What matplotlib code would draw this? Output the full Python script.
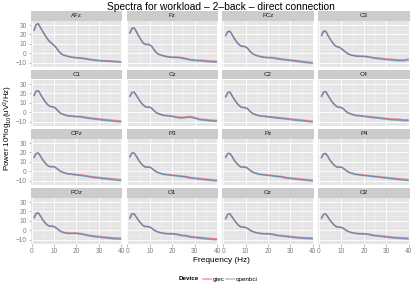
import matplotlib
matplotlib.use("Agg")
import matplotlib.pyplot as plt
from matplotlib.lines import Line2D

plt.rcParams['font.family'] = ['Liberation Sans', 'DejaVu Sans']
plt.rcParams['mathtext.fontset'] = 'custom'
plt.rcParams['mathtext.rm'] = 'Liberation Sans'
plt.rcParams['mathtext.it'] = 'Liberation Sans'

title = "Spectra for workload \u2013 2\u2013back \u2013 direct connection"
channels = ["AFz", "Fz", "FCz", "C3", "C1", "Cz", "C2", "C4",
            "CPz", "P3", "Pz", "P4", "POz", "O1", "Oz", "O2"]
devices = ["gtec", "openbci"]
freqs = [1, 2, 3, 4, 5, 6, 7, 8, 9, 10, 11, 12, 13, 14, 16, 18, 20, 22, 24, 26, 28, 30, 32, 34, 36, 38, 40]
x_ticks = [0, 10, 20, 30, 40]
y_ticks = [-10, 0, 10, 20, 30]

gtec = {
    "AFz": [24, 30.5, 31.5, 27, 23, 19, 15.5, 12.5, 10.5, 8.5, 6, 2.5, 0, -1.5, -3, -4, -4.5, -5, -5.5, -6.5, -7, -7.5, -7.8, -8, -8.3, -8.7, -9.0],
    "Fz": [21, 26.5, 27, 23, 18.5, 14.5, 11, 9.5, 9.5, 9, 7, 3.5, 0.5, -1, -2.5, -3.5, -4, -4, -4.5, -5.5, -6.5, -7, -7.3, -7.5, -8, -8.3, -8.5],
    "FCz": [18.5, 23, 23.5, 19.5, 15.5, 12, 9.5, 7.5, 7.5, 7, 5, 2, 0, -1.5, -3, -4, -4.3, -4.5, -5.3, -6, -6.5, -7, -7.5, -8.2, -8.8, -9.3, -9.8],
    "C3": [18.5, 23.5, 23.5, 19, 15, 11.5, 8.5, 7, 6.5, 5, 3, 1, -0.5, -1.5, -2.5, -3, -3, -3.5, -4.5, -5, -5.5, -6, -6.3, -6.8, -7, -7, -6.2],
    "C1": [17.5, 22.5, 23, 19, 15, 11.5, 8.5, 6.5, 6, 5.5, 3.5, 1, -1, -2, -3.5, -4, -4.3, -4.5, -5.3, -6, -6.5, -7, -7.5, -8, -8.5, -9, -9.3],
    "Cz": [16.5, 21, 21.5, 18, 14, 10.5, 8, 6, 5.5, 5.5, 4, 1.5, -0.5, -1.5, -3, -3.5, -4, -5, -5.5, -5, -4.5, -5.5, -7, -7.5, -8, -8.5, -8.7],
    "C2": [16, 21, 21.5, 17.5, 13.5, 10, 7.5, 5.5, 5, 5, 3.5, 1, -1, -2, -3.5, -4, -4.5, -5, -5.5, -6, -6.5, -7, -7.5, -8, -8.5, -9, -9.5],
    "C4": [16.5, 21.5, 22, 18, 14, 10.5, 8, 6, 5.5, 5, 3.5, 1, -0.5, -1.5, -3, -3.5, -4, -4.5, -5, -5.5, -6, -6.5, -7, -7.3, -7.5, -8, -8],
    "CPz": [14.5, 19, 19.5, 16, 12, 9, 6.5, 5, 5, 5, 3.5, 1.5, 0, -1, -2.5, -3, -3.5, -4, -4.5, -5.5, -6, -6.5, -7, -7.5, -8, -8.5, -9],
    "P3": [15, 19.5, 19.5, 16, 12, 8.5, 6, 4.5, 4.5, 4.5, 3, 1, -0.5, -1.5, -3, -3.5, -4, -4.5, -5, -5.5, -6.5, -7, -7.5, -8, -8.5, -9, -9.3],
    "Pz": [14.5, 19, 19, 15.5, 11.5, 8.5, 6, 4.5, 4.5, 4.5, 3, 1, -0.5, -1.5, -3, -3.5, -4, -4.5, -5, -5.5, -6.5, -7, -7.5, -8, -8.5, -9, -9.5],
    "P4": [14, 18.5, 19, 15.5, 11.5, 8.5, 6, 4.5, 4.5, 4.5, 3, 1, -0.5, -1.5, -3, -3.5, -4, -4.5, -5, -5.5, -6, -6.5, -7, -7.5, -8, -8.5, -8.8],
    "POz": [13, 18, 18.5, 15, 11, 8, 5.5, 4.5, 4.5, 4, 2.5, 0.5, -1, -2, -3, -3, -3, -3.5, -4.5, -5.5, -6, -6.5, -7, -7.5, -8, -8.3, -8.5],
    "O1": [12.5, 17.5, 17.5, 14, 10.5, 7.5, 5, 4, 4, 3.5, 2, 0, -1, -2, -3, -3.5, -3.5, -4, -5, -5.5, -6.5, -7, -7.5, -8, -8.5, -9, -9],
    "Oz": [12, 17, 17.5, 14, 10.5, 7.5, 5, 3.5, 3.5, 3, 2, 0, -1, -2, -3, -3.5, -3.5, -4, -5, -5.5, -6, -6.5, -7, -7.5, -7.8, -8, -8.2],
    "O2": [12.5, 17, 17.5, 14, 10.5, 7.5, 5, 3.5, 3.5, 3, 2, 0, -1, -2, -3, -3.5, -3.5, -4, -5, -5.5, -6, -6.5, -7, -7.5, -7.8, -8, -8.3],
}

openbci = {
    "AFz": [23.6, 30.2, 31.3, 27.1, 23.0, 19.1, 15.4, 12.4, 10.4, 8.3, 5.8, 2.3, -0.2, -1.8, -3.3, -4.4, -4.9, -5.4, -6.0, -6.9, -7.5, -8.0, -8.3, -8.5, -8.8, -9.2, -9.6],
    "Fz": [20.6, 26.2, 26.8, 23.0, 18.5, 14.4, 10.9, 9.4, 9.3, 8.8, 6.8, 3.3, 0.2, -1.3, -2.9, -3.9, -4.5, -4.6, -5.1, -6.2, -7.3, -7.9, -8.2, -8.5, -9.0, -9.4, -9.6],
    "FCz": [18.1, 22.7, 23.3, 19.5, 15.4, 11.9, 9.4, 7.4, 7.3, 6.8, 4.8, 1.8, -0.3, -1.8, -3.4, -4.4, -4.8, -5.1, -6.0, -6.7, -7.3, -7.9, -8.5, -9.2, -9.8, -10.3, -10.8],
    "C3": [18.1, 23.2, 23.3, 19.0, 14.9, 11.4, 8.4, 6.9, 6.3, 4.8, 2.8, 0.8, -0.8, -1.8, -2.9, -3.4, -3.5, -4.1, -5.1, -5.7, -6.3, -6.9, -7.2, -7.7, -8.0, -8.0, -7.2],
    "C1": [17.1, 22.2, 22.8, 19.0, 14.9, 11.4, 8.4, 6.4, 5.8, 5.3, 3.3, 0.8, -1.3, -2.3, -3.9, -4.4, -4.8, -5.1, -6.0, -6.7, -7.3, -7.9, -8.5, -9.0, -9.5, -10.0, -10.3],
    "Cz": [16.1, 20.7, 21.3, 18.0, 13.9, 10.4, 7.9, 5.9, 5.3, 5.3, 3.8, 1.3, -0.8, -1.8, -3.4, -3.9, -4.5, -5.6, -6.2, -5.7, -5.3, -6.4, -7.9, -8.5, -9.0, -9.5, -9.8],
    "C2": [15.6, 20.7, 21.3, 17.5, 13.4, 9.9, 7.4, 5.4, 4.8, 4.8, 3.3, 0.8, -1.3, -2.3, -3.9, -4.4, -5.0, -5.6, -6.2, -6.7, -7.3, -7.9, -8.5, -9.0, -9.5, -10.0, -10.5],
    "C4": [16.1, 21.2, 21.8, 18.0, 13.9, 10.4, 7.9, 5.9, 5.3, 4.8, 3.3, 0.8, -0.8, -1.8, -3.4, -3.9, -4.5, -5.1, -5.7, -6.2, -6.8, -7.4, -8.0, -8.3, -8.5, -9.0, -9.0],
    "CPz": [14.1, 18.7, 19.3, 16.0, 11.9, 8.9, 6.4, 4.9, 4.8, 4.8, 3.3, 1.3, -0.3, -1.3, -2.9, -3.4, -4.0, -4.6, -5.2, -6.2, -6.8, -7.4, -8.0, -8.5, -9.0, -9.5, -10.2],
    "P3": [14.6, 19.2, 19.3, 16.0, 11.9, 8.4, 5.9, 4.4, 4.3, 4.3, 2.8, 0.8, -0.8, -1.8, -3.4, -3.9, -4.5, -5.1, -5.7, -6.2, -7.3, -7.9, -8.5, -9.0, -9.5, -10.0, -10.4],
    "Pz": [14.1, 18.7, 18.8, 15.5, 11.4, 8.4, 5.9, 4.4, 4.3, 4.3, 2.8, 0.8, -0.8, -1.8, -3.4, -3.9, -4.5, -5.1, -5.7, -6.2, -7.3, -7.9, -8.5, -9.0, -9.5, -10.0, -10.6],
    "P4": [13.6, 18.2, 18.8, 15.5, 11.4, 8.4, 5.9, 4.4, 4.3, 4.3, 2.8, 0.8, -0.8, -1.8, -3.4, -3.9, -4.5, -5.1, -5.7, -6.2, -6.8, -7.4, -8.0, -8.5, -9.0, -9.5, -9.9],
    "POz": [12.6, 17.7, 18.3, 15.0, 10.9, 7.9, 5.4, 4.4, 4.3, 3.8, 2.3, 0.3, -1.3, -2.3, -3.4, -3.4, -3.5, -4.1, -5.2, -6.2, -6.8, -7.4, -8.0, -8.5, -9.0, -9.3, -9.6],
    "O1": [12.1, 17.2, 17.3, 14.0, 10.4, 7.4, 4.9, 3.9, 3.8, 3.3, 1.8, -0.2, -1.3, -2.3, -3.4, -3.9, -4.0, -4.6, -5.7, -6.2, -7.3, -7.9, -8.5, -9.0, -9.5, -10.0, -10.1],
    "Oz": [11.6, 16.7, 17.3, 14.0, 10.4, 7.4, 4.9, 3.4, 3.3, 2.8, 1.8, -0.2, -1.3, -2.3, -3.4, -3.9, -4.0, -4.6, -5.7, -6.2, -6.8, -7.4, -8.0, -8.5, -8.8, -9.0, -9.3],
    "O2": [12.1, 16.7, 17.3, 14.0, 10.4, 7.4, 4.9, 3.4, 3.3, 2.8, 1.8, -0.2, -1.3, -2.3, -3.4, -3.9, -4.0, -4.6, -5.7, -6.2, -6.8, -7.4, -8.0, -8.5, -8.8, -9.0, -9.4],
}

colors = {"gtec": "#E41A1C", "openbci": "#377EB8"}
alphas = {"gtec": 0.45, "openbci": 0.62}
series = {"gtec": gtec, "openbci": openbci}

W, H = 415, 291
fig = plt.figure(figsize=(W / 72, H / 72), dpi=72)


def rect(l, t, w, h):
    return [l / W, 1 - (t + h) / H, w / W, h / H]


lefts = [30.7 + i * 95.8 for i in range(4)]
pw = 91.5
strip_h = 9.5
ph = 46.2
pitch = 59.0
top0 = 11.0
tick_col = "#7F7F7F"

for idx, ch in enumerate(channels):
    r, c = divmod(idx, 4)
    st = top0 + r * pitch
    sax = fig.add_axes(rect(lefts[c], st, pw, strip_h))
    sax.set_facecolor("#CCCCCC")
    sax.set_xticks([]); sax.set_yticks([])
    for s in sax.spines.values():
        s.set_visible(False)
    sax.text(0.5, 0.5, ch, ha="center", va="center", fontsize=6.3, color="#1A1A1A",
             transform=sax.transAxes)

    ax = fig.add_axes(rect(lefts[c], st + strip_h, pw, ph))
    ax.set_facecolor("#E5E5E5")
    for s in ax.spines.values():
        s.set_visible(False)
    ax.set_xlim(-0.4, 40.4)
    ax.set_ylim(-14.3, 34.8)
    ax.set_xticks(x_ticks)
    ax.set_yticks(y_ticks)
    ax.set_xticks([5, 15, 25, 35], minor=True)
    ax.set_yticks([-5, 5, 15, 25], minor=True)
    ax.grid(True, which="major", color="white", lw=0.9)
    ax.grid(True, which="minor", color="#F2F2F2", lw=0.5)
    ax.set_axisbelow(True)
    ax.tick_params(which="minor", length=0)
    ax.tick_params(which="major", length=2.5, width=0.5, color=tick_col,
                   labelsize=6.5, labelcolor=tick_col, pad=1.5)
    if c != 0:
        ax.tick_params(axis="y", length=0, labelleft=False)
    if r != 3:
        ax.tick_params(axis="x", length=0, labelbottom=False)
    for dev in devices:
        ax.plot(freqs, series[dev][ch], color=colors[dev], alpha=alphas[dev], lw=1.5,
                solid_capstyle="butt")

fig.text(221 / W, 1 - 6.5 / H, title, ha="center", va="center", fontsize=10.3)
fig.text(221 / W, 1 - 260 / H, "Frequency (Hz)", ha="center", va="center", fontsize=8.2)
fig.text(8 / W, 1 - 128 / H, r"Power 10*log$_{10}$(uV$^{2}$/Hz)", ha="center",
         va="center", rotation=90, fontsize=8)

fig.text(178.5 / W, 1 - 279 / H, "Device", ha="left", va="center", fontsize=6.3,
         weight="bold")
handles = [Line2D([], [], color=colors[d], alpha=0.45, lw=1.5) for d in devices]
fig.legend(handles, devices, loc="center left", bbox_to_anchor=(203 / W, 1 - 279 / H),
           ncol=2, frameon=False, fontsize=6.3, handlelength=1.2, handletextpad=0.3,
           columnspacing=0.3, borderpad=0, borderaxespad=0)

fig.savefig("out.png", dpi=72)
